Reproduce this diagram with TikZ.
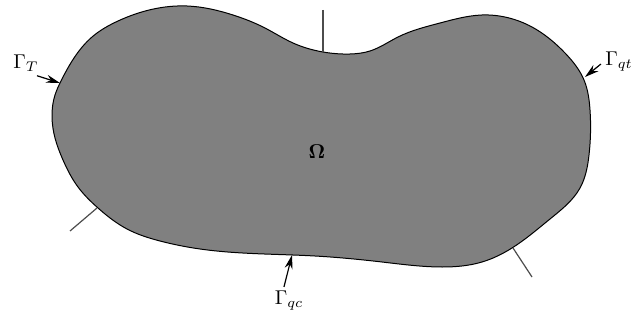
\documentclass[tikz,border=0pt]{standalone}
\usepackage{amsmath,bm}
\usetikzlibrary{arrows.meta,hobby}
\begin{document}
\begin{tikzpicture}[x=0.5pt,y=-0.5pt,
  region/.style={fill=black!50,draw=black,line width=0.5pt},
  tick/.style={draw=black!70,line width=0.6pt},
  lbl/.style={inner sep=1pt,font=\normalsize},
  pointer/.style={-{Stealth[length=7pt,width=4pt]},line width=0.6pt}]
\useasboundingbox (0,0) rectangle (635,320);
\path[region] (52,117) to[closed,curve through={
 (55,95) (61,81) (74,58) (92,37) (118,21) (187,6) (233,15)
 (265,28) (293,43) (323,52) (350,54) (370,51) (398,37) (440,23) (482,15)
 (532,27) (565,53) (584,80) (590,110) (589,155) (580,188) (550,219)
 (512,248) (482,262) (442,267) (382,262) (315,256) (200,249)
 (160,241) (127,229) (98,208) (78,187) (63,160) (55,138)}] (52,117);
% boundary division ticks
\coordinate (t1a) at (323,10); \coordinate (t1b) at (323,52);
\coordinate (t2a) at (97,208); \coordinate (t2b) at (70,231);
\coordinate (t3a) at (513,248); \coordinate (t3b) at (532,277);
\draw[tick] (t1a) -- (t1b);
\draw[tick] (t2a) -- (t2b);
\draw[tick] (t3a) -- (t3b);
% labels
\node[lbl] (om) at (317,152) {$\bm{\Omega}$};
\node[lbl] (gT) at (26,63) {$\Gamma_T$};
\node[lbl] (gqt) at (619,62) {$\Gamma_{qt}$};
\node[lbl] (gqc) at (289,301) {$\Gamma_{qc}$};
\coordinate (pT) at (60,83);
\coordinate (pqt) at (585,77);
\coordinate (pqc) at (292,255);
\draw[pointer] (gT.south east) ++(-4,2) -- (pT);
\draw[pointer] (gqt.west) ++(-2,2) -- (pqt);
\draw[pointer] (gqc.north) ++(-5,-2) -- (pqc);
\end{tikzpicture}
\end{document}
